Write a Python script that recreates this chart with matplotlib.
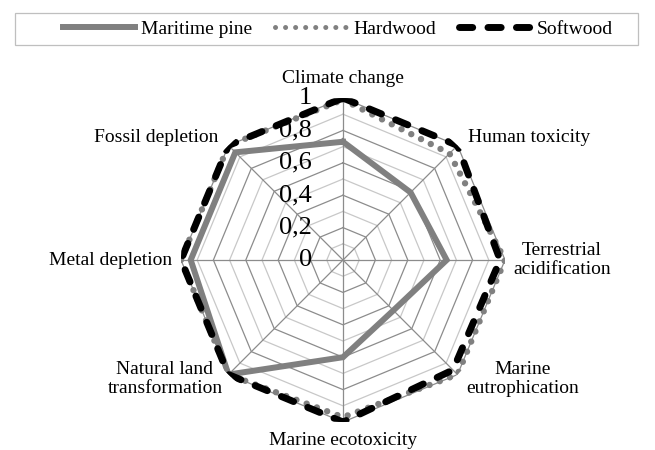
import numpy as np
import matplotlib.pyplot as plt
from matplotlib.patches import Rectangle

plt.rcParams['font.family'] = ['Liberation Serif', 'DejaVu Serif']

categories = ["Climate change", "Human toxicity", "Terrestrial\nacidification",
              "Marine\neutrophication", "Marine ecotoxicity",
              "Natural land\ntransformation", "Metal depletion", "Fossil depletion"]
pine = [0.73, 0.59, 0.64, 0.44, 0.60, 1.0, 0.94, 0.94]
hardwood = [0.99, 0.93, 1.0, 1.0, 0.97, 1.0, 1.0, 1.0]
softwood = [1.0, 1.0, 0.97, 0.96, 1.0, 1.0, 1.0, 1.0]
rticks = [0, 0.2, 0.4, 0.6, 0.8, 1]
rlabels = ["0", "0,2", "0,4", "0,6", "0,8", "1"]

# label placement: (ha, dx, dy) in pixels from the axis tip
label_pos = [("center", 0, 20), ("left", 10, 8), ("left", 8, 0), ("left", 9, -4),
             ("center", 0, -18), ("right", -6, -4), ("right", -9, 0), ("right", -10, 8)]

n = len(categories)
theta = np.linspace(0, 2 * np.pi, n, endpoint=False)
closed = np.append(theta, theta[0])

def close(v):
    return list(v) + [v[0]]

fig = plt.figure(figsize=(6.55, 4.5), dpi=100)
ax = fig.add_axes([0.2763, 0.0622, 0.4947, 0.72], projection='polar')
ax.set_theta_zero_location('N')
ax.set_theta_direction(-1)
ax.set_ylim(0, 1)
ax.grid(False)
ax.spines['polar'].set_visible(False)
ax.set_xticks([])
ax.set_yticks([])

# octagon grid
for i in range(1, 11):
    r = i / 10
    col = '#8c8c8c' if i % 2 == 0 else '#c8c8c8'
    ax.plot(closed, [r] * (n + 1), color=col, lw=0.9, zorder=1)
for t in theta:
    ax.plot([t, t], [0, 1], color='#8c8c8c', lw=0.9, zorder=1)

l1, = ax.plot(closed, close(pine), color='#808080', lw=4.3, solid_joinstyle='miter',
              zorder=3, label='Maritime pine')
l2, = ax.plot(closed, close(hardwood), color='#808080', lw=4.6, linestyle=(0, (0.01, 1.7)),
              dash_capstyle='round', zorder=4, label='Hardwood')
l3, = ax.plot(closed, close(softwood), color='black', lw=5, linestyle=(0, (1.9, 2.2)),
              dash_capstyle='round', zorder=5, label='Softwood')

for v, s in zip(rticks, rlabels):
    ax.annotate(s, xy=(0, v), xytext=(-31, 0), textcoords='offset pixels',
                ha='right', va='center', fontsize=19, zorder=6)

for t, lab, (ha, dx, dy) in zip(theta, categories, label_pos):
    ax.annotate(lab, xy=(t, 1), xytext=(dx, dy), textcoords='offset pixels',
                ha=ha, va='center', multialignment='center', fontsize=14,
                linespacing=1.15, annotation_clip=False)

fig.patches.append(Rectangle((15 / 655, 1 - 45 / 450), 623 / 655, 32 / 450,
                             transform=fig.transFigure, fill=False,
                             edgecolor='#bfbfbf', lw=0.9))
leg = fig.legend(handles=[l1, l2, l3], loc='center', bbox_to_anchor=(338 / 655, 1 - 29 / 450),
                 ncol=3, frameon=False, fontsize=14, handlelength=3.7, handletextpad=0.3,
                 columnspacing=1.2)
leg.get_lines()[1].set_linewidth(3.6)
leg.get_lines()[1].set_linestyle((0, (0.01, 2.0)))

fig.savefig('out.png', dpi=100)
